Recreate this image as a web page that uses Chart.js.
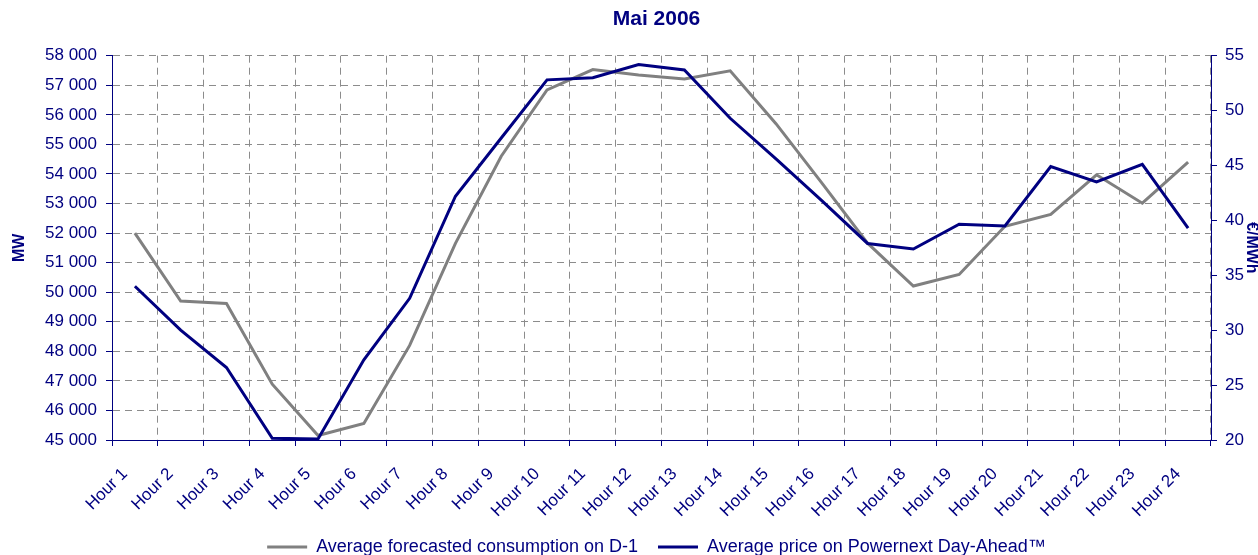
<!DOCTYPE html>
<html>
<head>
<meta charset="utf-8">
<script src="https://cdn.jsdelivr.net/npm/chart.js@4.4.1/dist/chart.umd.min.js"></script>
<style>
    html, body { margin: 0; padding: 0; background: #fff; }
    #clip { width: 1258px; height: 555px; overflow: hidden; position: relative; }
    #box { width: 1313px; height: 566px; position: relative; }
</style>
</head>
<body>
<div id="clip"><div id="box"><canvas id="chart"></canvas></div></div>
<script>
'use strict';

const hours = ['Hour 1', 'Hour 2', 'Hour 3', 'Hour 4', 'Hour 5', 'Hour 6', 'Hour 7', 'Hour 8',
    'Hour 9', 'Hour 10', 'Hour 11', 'Hour 12', 'Hour 13', 'Hour 14', 'Hour 15', 'Hour 16',
    'Hour 17', 'Hour 18', 'Hour 19', 'Hour 20', 'Hour 21', 'Hour 22', 'Hour 23', 'Hour 24'];

// MW, left axis
const consumption = [52000, 49700, 49620, 46890, 45150, 45560, 48200, 51650,
    54600, 56840, 57530, 57350, 57210, 57490, 55700, 53700,
    51660, 50210, 50600, 52230, 52630, 53970, 53010, 54400];

// €/MWh, right axis
const price = [34.0, 30.0, 26.6, 20.15, 20.1, 27.3, 32.9, 42.2,
    47.5, 52.8, 53.0, 54.2, 53.7, 49.3, 45.6, 41.8,
    37.9, 37.4, 39.65, 39.5, 44.9, 43.5, 45.1, 39.3];

const mwRange = [45000, 58000, 1000];
const priceRange = [20, 55, 5];

const NAVY = '#000080';
const GREY = '#808080';
const GRID = '#8c8c8c';
const FONT = "'Liberation Sans', Arial, sans-serif";

Chart.defaults.font.family = FONT;

// 58000 -> "58 000"
const fmt = function (v) {
    return String(v).replace(/\B(?=(\d{3})+(?!\d))/g, ' ');
};

new Chart(document.getElementById('chart'), {
    type: 'line',
    data: {
        labels: hours,
        datasets: [{
            label: 'Average forecasted consumption on D-1',
            data: consumption,
            yAxisID: 'mw',
            borderColor: GREY,
            backgroundColor: GREY,
            borderWidth: 3,
            pointRadius: 0,
            tension: 0,
            order: 2
        }, {
            label: 'Average price on Powernext Day-Ahead™',
            data: price,
            yAxisID: 'eur',
            borderColor: NAVY,
            backgroundColor: NAVY,
            borderWidth: 3,
            pointRadius: 0,
            tension: 0,
            order: 1
        }]
    },
    options: {
        responsive: true,
        maintainAspectRatio: false,
        animation: false,
        layout: { padding: 0 },
        plugins: {
            title: {
                display: true,
                text: 'Mai 2006',
                color: NAVY,
                font: { size: 21, weight: 'bold' },
                padding: { top: 7, bottom: 23.5 }
            },
            legend: {
                position: 'bottom',
                labels: {
                    usePointStyle: true,
                    pointStyle: 'line',
                    pointStyleWidth: 40,
                    color: NAVY,
                    font: { size: 18 },
                    padding: 20,
                    sort: function (a, b) { return a.datasetIndex - b.datasetIndex; }
                }
            },
            tooltip: { enabled: false }
        },
        scales: {
            x: {
                offset: true,
                grid: { offset: true, color: GRID, tickColor: NAVY, tickLength: 6, tickBorderDash: [] },
                border: { color: NAVY, dash: [7, 5] },
                ticks: {
                    color: NAVY, font: { size: 17 }, autoSkip: false,
                    minRotation: 45, maxRotation: 45, padding: 18, labelOffset: -10
                },
                afterFit: function (s) { s.height = 78; }
            },
            mw: {
                position: 'left',
                min: mwRange[0],
                max: mwRange[1],
                grid: { color: GRID, tickColor: NAVY, tickLength: 6, tickBorderDash: [] },
                border: { color: NAVY, dash: [7, 5] },
                ticks: { stepSize: mwRange[2], color: NAVY, font: { size: 17 }, padding: 9, callback: fmt },
                title: {
                    display: true, text: 'MW', color: NAVY,
                    font: { size: 16, weight: 'bold' }, padding: { top: 10, bottom: 0 }
                },
                afterFit: function (s) { s.width = 112; }
            },
            eur: {
                position: 'right',
                min: priceRange[0],
                max: priceRange[1],
                grid: { drawOnChartArea: false, tickColor: NAVY, tickLength: 6, tickBorderDash: [] },
                border: { color: NAVY },
                ticks: { stepSize: priceRange[2], color: NAVY, font: { size: 17 }, padding: 8 },
                title: {
                    display: true, text: '€/MWh', color: NAVY,
                    font: { size: 16, weight: 'bold' }, padding: { top: 52, bottom: 0 }
                },
                afterFit: function (s) { s.width = 102; }
            }
        }
    }
});
</script>
</body>
</html>
